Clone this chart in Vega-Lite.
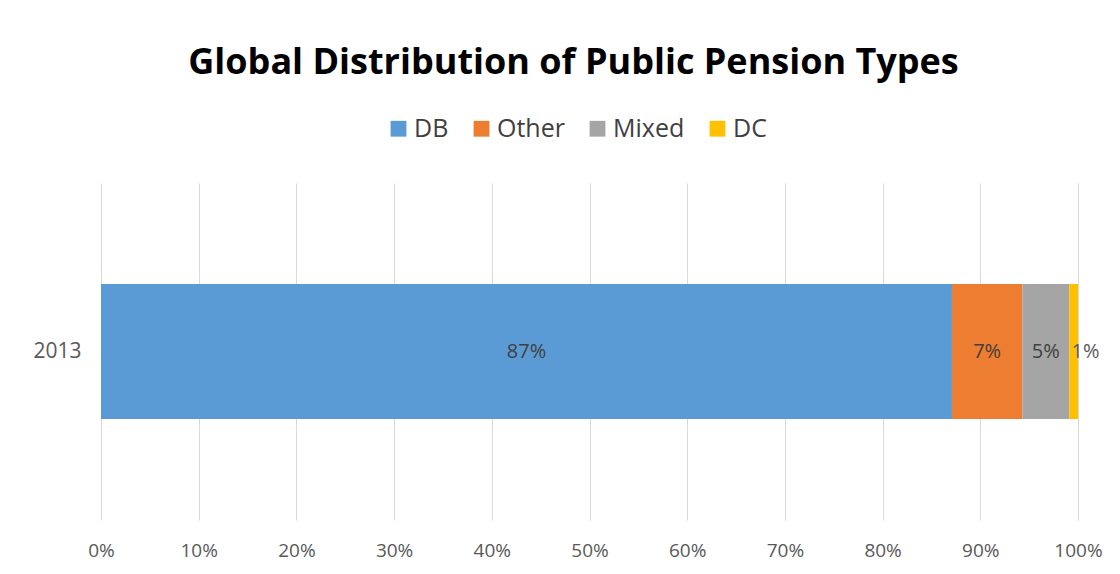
{
  "$schema": "https://vega.github.io/schema/vega-lite/v6.json",
  "autosize": "none",
  "width": 977,
  "height": 337,
  "padding": {"left": 101, "top": 183, "right": 42, "bottom": 54},
  "background": "white",
  "title": {
    "text": "Global Distribution of Public Pension Types",
    "font": "Open Sans",
    "fontSize": 36,
    "fontWeight": "bold",
    "color": "#000000",
    "anchor": "middle",
    "frame": "group",
    "dx": -16,
    "offset": 34
  },
  "data": {
    "values": [
      {"year": "2013", "type": "DB", "value": 0.871, "order": 1},
      {"year": "2013", "type": "Other", "value": 0.072, "order": 2},
      {"year": "2013", "type": "Mixed", "value": 0.048, "order": 3},
      {"year": "2013", "type": "DC", "value": 0.009, "order": 4}
    ]
  },
  "encoding": {
    "y": {
      "field": "year",
      "type": "nominal",
      "scale": {"paddingInner": 0.6, "paddingOuter": 0.3},
      "axis": {
        "title": null,
        "domain": false,
        "ticks": false,
        "labelFont": "Open Sans",
        "labelFontSize": 21,
        "labelColor": "#595959",
        "labelPadding": 20
      }
    }
  },
  "layer": [
    {
      "mark": {"type": "bar", "strokeWidth": 0},
      "encoding": {
        "x": {
          "field": "value",
          "type": "quantitative",
          "stack": "zero",
          "scale": {"domain": [0, 1], "nice": false},
          "axis": {
            "title": null,
            "format": ".0%",
            "values": [0, 0.1, 0.2, 0.3, 0.4, 0.5, 0.6, 0.7, 0.8, 0.9, 1],
            "domain": false,
            "ticks": false,
            "grid": true,
            "gridColor": "#D9D9D9",
            "gridWidth": 1,
            "labelFont": "Open Sans",
            "labelFontSize": 19,
            "labelColor": "#595959",
            "labelPadding": 21,
            "labelFlush": false
          }
        },
        "order": {"field": "order", "type": "quantitative"},
        "color": {
          "field": "type",
          "type": "nominal",
          "scale": {
            "domain": ["DB", "Other", "Mixed", "DC"],
            "range": ["#5B9BD5", "#ED7D31", "#A5A5A5", "#FFC000"]
          },
          "legend": {
            "title": null,
            "orient": "none",
            "direction": "horizontal",
            "legendX": 285,
            "legendY": -67,
            "symbolType": "square",
            "symbolSize": 250,
            "symbolStrokeWidth": 0,
            "symbolOpacity": 1,
            "labelFont": "Open Sans",
            "labelFontSize": 25,
            "labelColor": "#404040",
            "columnPadding": 20,
            "labelOffset": 3
          }
        }
      }
    },
    {
      "transform": [
        {"stack": "value", "groupby": ["year"], "sort": [{"field": "order"}], "as": ["s0", "s1"]},
        {"fold": ["s0", "s1"], "as": ["edge", "pos"]},
        {"aggregate": [{"op": "mean", "field": "pos", "as": "mid"}, {"op": "max", "field": "value", "as": "value"}], "groupby": ["year", "type"]},
        {"filter": "datum.type !== 'DC'"}
      ],
      "mark": {"type": "text", "font": "Open Sans", "fontSize": 20, "color": "#404040", "align": "center", "baseline": "middle"},
      "encoding": {
        "x": {"field": "mid", "type": "quantitative", "scale": {"domain": [0, 1], "nice": false}},
        "text": {"field": "value", "type": "quantitative", "format": ".0%"}
      }
    },
    {
      "transform": [
        {"stack": "value", "groupby": ["year"], "sort": [{"field": "order"}], "as": ["s0", "s1"]},
        {"fold": ["s0", "s1"], "as": ["edge", "pos"]},
        {"aggregate": [{"op": "mean", "field": "pos", "as": "mid"}, {"op": "max", "field": "value", "as": "value"}], "groupby": ["year", "type"]},
        {"filter": "datum.type === 'DC'"}
      ],
      "mark": {"type": "text", "font": "Open Sans", "fontSize": 20, "color": "#595959", "align": "center", "baseline": "middle", "dx": 12},
      "encoding": {
        "x": {"field": "mid", "type": "quantitative", "scale": {"domain": [0, 1], "nice": false}},
        "text": {"field": "value", "type": "quantitative", "format": ".0%"}
      }
    }
  ],
  "config": {"view": {"stroke": null}}
}
